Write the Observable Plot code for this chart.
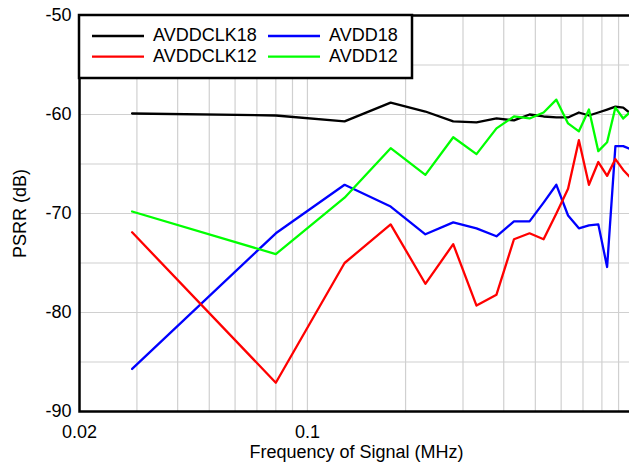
<!DOCTYPE html>
<html><head><meta charset="utf-8">
<script src="https://cdn.jsdelivr.net/npm/d3@7"></script>
<script src="https://cdn.jsdelivr.net/npm/@observablehq/plot@0.6"></script>
<style>body{margin:0;background:#fff;overflow:hidden;}</style>
</head><body><div id="chart"></div>
<script>
// Frequencies (MHz)
const freq = [0.029, 0.08, 0.13, 0.18, 0.23, 0.28, 0.33, 0.38, 0.43, 0.48, 0.53, 0.58, 0.63, 0.68, 0.73, 0.78, 0.83, 0.88, 0.93, 0.98];
// PSRR (dB) per supply
const avddclk18 = [-59.9, -60.1, -60.7, -58.8, -59.7, -60.7, -60.8, -60.4, -60.6, -60.0, -60.2, -60.3, -60.3, -59.8, -60.1, -59.8, -59.5, -59.2, -59.3, -59.9];
const avddclk12 = [-71.9, -87.1, -75.0, -71.1, -77.1, -73.1, -79.3, -78.2, -72.6, -72.0, -72.6, -70.0, -67.5, -62.6, -67.1, -64.8, -66.2, -64.5, -65.6, -66.4];
const avdd18    = [-85.7, -72.0, -67.1, -69.3, -72.1, -70.9, -71.5, -72.3, -70.8, -70.8, -68.9, -67.1, -70.2, -71.5, -71.2, -71.1, -75.4, -63.2, -63.2, -63.5];
const avdd12    = [-69.8, -74.1, -68.4, -63.4, -66.1, -62.3, -64.0, -61.4, -60.2, -60.4, -59.8, -58.5, -60.9, -61.7, -59.5, -63.7, -62.8, -59.3, -60.4, -59.7];

const seriesNames = ["AVDDCLK18", "AVDD18", "AVDDCLK12", "AVDD12"];
const seriesColors = ["#000000", "#0000ff", "#ff0000", "#00ff00"];
const seriesValues = [avddclk18, avdd18, avddclk12, avdd12];

const xTicks = [0.02, 0.1, 1];
const xGrid = [0.03, 0.04, 0.05, 0.06, 0.07, 0.08, 0.09, 0.1, 0.2, 0.3, 0.4, 0.5, 0.6, 0.7, 0.8, 0.9];
const yTicks = [-90, -80, -70, -60, -50];
const yGrid = [-85, -80, -75, -70, -65, -60, -55];

const rows = seriesNames.flatMap((name, k) => freq.map((f, i) => ({f, v: seriesValues[k][i], name})));

const chart = Plot.plot({
  width: 629, height: 462,
  marginLeft: 79, marginRight: -4, marginTop: 15, marginBottom: 51,
  style: {fontFamily: "'Liberation Sans', Arial, sans-serif", fontSize: "18px", background: "white", overflow: "hidden", color: "black"},
  x: {type: "log", domain: [0.02, 1]},
  y: {domain: [-90, -50]},
  color: {domain: seriesNames, range: seriesColors},
  marks: [
    Plot.gridX(xGrid, {stroke: "#d0d0d0", strokeOpacity: 1, strokeWidth: 1.2}),
    Plot.gridY(yGrid, {stroke: "#d0d0d0", strokeOpacity: 1, strokeWidth: 1.2}),
    Plot.axisX(xTicks, {tickSize: 0, tickPadding: 14, tickFormat: d => String(d), label: "Frequency of Signal (MHz)", labelAnchor: "center", labelArrow: "none", labelOffset: 46}),
    Plot.axisY(yTicks, {tickSize: 0, tickPadding: 8, tickFormat: d => String(d), label: "PSRR (dB)", labelAnchor: "center", labelArrow: "none", labelOffset: 66}),
    Plot.line(rows, {x: "f", y: "v", z: "name", stroke: "name", strokeWidth: 2.3}),
    Plot.frame({stroke: "black", strokeWidth: 2.5})
  ]
});
document.getElementById("chart").appendChild(chart);

// Legend box (inside top-left of the plot frame)
const svg = d3.select(chart);
const lg = svg.append("g").attr("text-anchor", "start");
lg.append("rect").attr("x", 79).attr("y", 15).attr("width", 333).attr("height", 63)
  .attr("fill", "white").attr("stroke", "black").attr("stroke-width", 2.5);
const legendCols = [[92, 144, 153], [268, 320, 329]];
const legendRows = [[36, 41], [56.7, 62]];
const legendOrder = ["AVDDCLK18", "AVDD18", "AVDDCLK12", "AVDD12"];
legendOrder.forEach((name, i) => {
  const c = legendCols[i % 2], r = legendRows[Math.floor(i / 2)];
  const color = seriesColors[seriesNames.indexOf(name)];
  lg.append("line").attr("x1", c[0]).attr("x2", c[1]).attr("y1", r[0]).attr("y2", r[0])
    .attr("stroke", color).attr("stroke-width", 2.3);
  lg.append("text").attr("x", c[2]).attr("y", r[1]).attr("fill", "black").attr("text-anchor", "start")
    .style("font-family", "'Liberation Sans', Arial, sans-serif").style("font-size", "18px").text(name);
});
</script>
</body></html>
